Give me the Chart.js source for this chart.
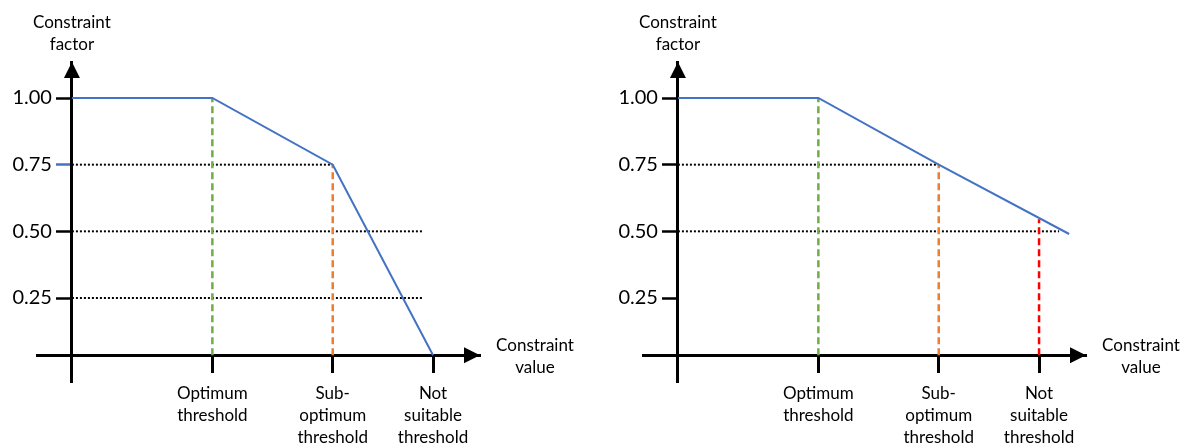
<!DOCTYPE html>
<html>
<head>
<meta charset="utf-8">
<script src="https://cdn.jsdelivr.net/npm/chart.js@4/dist/chart.umd.min.js"></script>
<style>
  body { margin: 0; background: #fff; }
  #izq { position: absolute; left: 0; top: 0; }
  #der { position: absolute; left: 590px; top: 0; }
</style>
</head>
<body>
<canvas id="izq" width="590" height="443"></canvas>
<canvas id="der" width="593" height="443"></canvas>
<script>
// etiquetas y ticks
const etiquetas_umbral = [
  ["Optimum", "threshold"],
  ["Sub-", "optimum", "threshold"],
  ["Not", "suitable", "threshold"],
];
const x_umbral = [3.5, 6.5, 9.0];
const y_ticks = [0.25, 0.5, 0.75, 1.0];
// el eje x no cae exactamente en 0 respecto a los ticks del dibujo
const y_base = 0.035;

// panel izquierdo
const izq_curva_x = [0, 3.5, 6.5, 9.0];
const izq_curva_y = [1.0, 1.0, 0.75, 0.035];
const izq_punteada_y = [0.75, 0.5, 0.25];
const izq_punteada_fin = [6.5, 8.75, 8.75];
const izq_vertical_x = [3.5, 6.5];
const izq_vertical_top = [1.0, 0.75];

// panel derecho
const der_curva_x = [0, 3.5, 6.5, 9.75];
const der_curva_y = [1.0, 1.0, 0.75, 0.49];
const der_punteada_y = [0.75, 0.5];
const der_punteada_fin = [6.5, 9.5];
const der_vertical_x = [3.5, 6.5, 9.0];
const der_vertical_top = [1.0, 0.75, 0.545];

const colores_umbral = ["#70AD47", "#ED7D31", "#FF0000"];
const azul = "#4472C4";
const fuente = "Lato, 'Open Sans', sans-serif";

Chart.defaults.font.family = fuente;
Chart.defaults.color = "#000";

const flechas = {
  id: "flechas",
  afterDraw(chart) {
    const { ctx, chartArea, scales } = chart;
    const x0 = scales.x.getPixelForValue(0);
    const y0 = scales.y.getPixelForValue(y_base);
    ctx.save();
    ctx.fillStyle = "#000";
    ctx.beginPath();
    ctx.moveTo(x0, chartArea.top);
    ctx.lineTo(x0 - 8, chartArea.top + 16);
    ctx.lineTo(x0 + 8, chartArea.top + 16);
    ctx.closePath();
    ctx.fill();
    ctx.beginPath();
    ctx.moveTo(chartArea.right, y0);
    ctx.lineTo(chartArea.right - 16, y0 - 8);
    ctx.lineTo(chartArea.right - 16, y0 + 8);
    ctx.closePath();
    ctx.fill();

    // etiquetas del eje y (la escala centrada no respeta el padding)
    ctx.font = "20px " + fuente;
    ctx.textAlign = "right";
    ctx.textBaseline = "middle";
    scales.y.ticks.forEach((t) => {
      ctx.fillText(t.value.toFixed(2), x0 - 20, scales.y.getPixelForValue(t.value));
    });

    ctx.font = "17px " + fuente;
    ctx.textAlign = "center";
    ctx.fillText("Constraint", x0, chartArea.top - 39);
    ctx.fillText("factor", x0, chartArea.top - 17);
    ctx.fillText("Constraint", chartArea.right + 55, y0 - 10);
    ctx.fillText("value", chartArea.right + 55, y0 + 12);
    ctx.restore();
  },
};

function armarDatasets(cx, cy, py, pfin, vx, vtop) {
  const ds = [];
  ds.push({
    data: cx.map((x, i) => ({ x, y: cy[i] })),
    borderColor: azul,
    borderWidth: 2,
  });
  vx.forEach((x, i) => {
    ds.push({
      data: [{ x, y: y_base }, { x, y: vtop[i] }],
      borderColor: colores_umbral[i],
      borderWidth: 2.5,
      borderDash: [7, 4],
    });
  });
  py.forEach((y, i) => {
    ds.push({
      data: [{ x: 0, y }, { x: pfin[i], y }],
      borderColor: "#000",
      borderWidth: 2,
      borderDash: [2, 2],
    });
  });
  return ds;
}

function crearPanel(id, datasets, padding, tickAzul) {
  return new Chart(document.getElementById(id).getContext("2d"), {
    type: "line",
    data: { datasets },
    options: {
      responsive: false,
      animation: false,
      devicePixelRatio: 1,
      layout: { padding },
      elements: { point: { radius: 0 }, line: { tension: 0 } },
      plugins: { legend: { display: false }, tooltip: { enabled: false } },
      scales: {
        x: {
          type: "linear",
          min: -0.87,
          max: 10.17,
          position: { y: y_base },
          afterBuildTicks: (axis) => {
            axis.ticks = x_umbral.map((v) => ({ value: v }));
          },
          ticks: {
            autoSkip: false,
            maxRotation: 0,
            padding: 11,
            font: { size: 17, lineHeight: "22px" },
            callback: (v) => etiquetas_umbral[x_umbral.indexOf(v)],
          },
          grid: {
            drawOnChartArea: false,
            tickLength: 16,
            tickWidth: 3,
            tickColor: "#000",
          },
          border: { display: true, color: "#000", width: 3 },
        },
        y: {
          type: "linear",
          min: -0.065,
          max: 1.135,
          position: { x: 0 },
          afterBuildTicks: (axis) => {
            axis.ticks = y_ticks.map((v) => ({ value: v }));
          },
          ticks: { display: false },
          grid: {
            drawOnChartArea: false,
            tickLength: 14,
            tickWidth: 2.5,
            tickColor: (c) =>
              tickAzul && c.tick && c.tick.value === 0.75 ? azul : "#000",
          },
          border: { display: true, color: "#000", width: 3 },
        },
      },
    },
    plugins: [flechas],
  });
}

crearPanel(
  "izq",
  armarDatasets(izq_curva_x, izq_curva_y, izq_punteada_y, izq_punteada_fin, izq_vertical_x, izq_vertical_top),
  { left: 37, right: 110, top: 62, bottom: 61 },
  true
);
crearPanel(
  "der",
  armarDatasets(der_curva_x, der_curva_y, der_punteada_y, der_punteada_fin, der_vertical_x, der_vertical_top),
  { left: 53, right: 97, top: 62, bottom: 61 },
  false
);
</script>
</body>
</html>
